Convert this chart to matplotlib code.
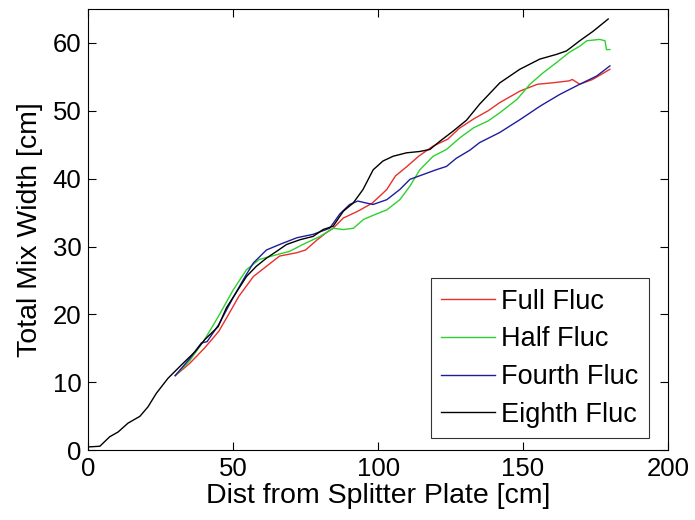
import matplotlib
matplotlib.use("Agg")
import matplotlib.pyplot as plt

plt.rcParams['font.family'] = ['Liberation Sans', 'DejaVu Sans']

# Full Fluc (red)
full_x = [30, 35, 40, 45, 48, 52, 57, 61.5, 66, 72, 75, 79, 82, 84.5, 88, 93, 98, 103, 106, 110, 114, 119, 124, 128, 133, 138, 142, 149, 155, 160, 166, 167, 169.6, 174, 180]
full_y = [11.0, 12.8, 15.0, 17.5, 19.7, 22.7, 25.6, 27.1, 28.6, 29.1, 29.5, 31.0, 32.0, 32.7, 34.2, 35.2, 36.4, 38.4, 40.4, 41.8, 43.3, 44.8, 45.8, 47.4, 48.8, 50.0, 51.2, 52.9, 53.9, 54.1, 54.4, 54.6, 53.9, 54.6, 56.1]

# Half Fluc (green)
half_x = [30, 35, 40, 45, 50, 54.6, 59, 65, 69.5, 74, 80, 84.5, 88, 91.5, 95, 98.3, 103, 107.5, 111, 114.4, 119, 123.6, 128.2, 133, 138, 142, 148, 152.4, 157, 161.6, 166, 169.6, 172, 176.5, 178.3, 178.8, 180]
half_y = [11.0, 13.2, 16.2, 19.8, 23.6, 26.6, 28.1, 28.8, 29.3, 30.3, 31.5, 32.7, 32.5, 32.7, 34.0, 34.6, 35.4, 36.9, 38.9, 41.3, 43.3, 44.3, 46.0, 47.5, 48.5, 49.7, 51.7, 53.9, 55.6, 57.1, 58.6, 59.5, 60.3, 60.5, 60.3, 59.0, 59.0]

# Fourth Fluc (blue)
fourth_x = [30, 35, 39, 41, 45, 50, 54, 57, 61.5, 66, 72, 77.6, 83.3, 86.8, 90.2, 93, 96, 98.3, 103, 107.5, 111, 115.5, 120, 123.6, 127, 131.7, 135, 142, 149, 156, 162.7, 169.6, 175.4, 180]
fourth_y = [11.0, 13.5, 15.8, 16.0, 18.5, 22.5, 25.5, 27.6, 29.5, 30.3, 31.3, 31.8, 32.7, 34.8, 36.2, 36.7, 36.4, 36.2, 36.9, 38.4, 39.9, 40.6, 41.3, 41.8, 43.0, 44.2, 45.3, 46.8, 48.7, 50.7, 52.4, 53.9, 55.1, 56.6]

# Eighth Fluc (black)
eighth_x = [0, 4, 7.4, 10.3, 13.7, 17.8, 20.6, 23.5, 27.5, 32.2, 36.8, 40.2, 44.8, 47.7, 51, 54.6, 58, 61.5, 65, 68.4, 73, 77.6, 81, 84.5, 88, 91.4, 94.8, 98.3, 101.7, 105.2, 109.8, 114.4, 117.9, 121.3, 125.9, 130.5, 135.1, 142, 148.9, 155.8, 161.6, 165, 169.6, 174.2, 179.4]
eighth_y = [0.5, 0.6, 2.0, 2.7, 4.0, 5.0, 6.4, 8.4, 10.6, 12.6, 14.5, 16.3, 18.2, 21.0, 23.2, 25.6, 27.1, 28.3, 29.3, 30.3, 31.0, 31.5, 32.5, 33.0, 35.2, 36.4, 38.4, 41.3, 42.6, 43.3, 43.8, 44.0, 44.3, 45.5, 47.0, 48.6, 51.0, 54.1, 56.1, 57.6, 58.3, 58.8, 60.3, 61.7, 63.5]

labels = ["Full Fluc", "Half Fluc", "Fourth Fluc", "Eighth Fluc"]
colors = ["#e8302c", "#2ed12e", "#1e1e9c", "#000000"]

x_ticks = [0, 50, 100, 150, 200]
y_ticks = [0, 10, 20, 30, 40, 50, 60]

fig = plt.figure(figsize=(6.95, 5.2), dpi=100)
ax = fig.add_axes([0.127, 0.134, 0.834, 0.849])

series = [(full_x, full_y), (half_x, half_y), (fourth_x, fourth_y), (eighth_x, eighth_y)]
for (xs, ys), lab, c in zip(series, labels, colors):
    ax.plot(xs, ys, color=c, lw=1.0, label=lab)

ax.set_xlim(0, 200)
ax.set_ylim(0, 65)
ax.set_xticks(x_ticks)
ax.set_yticks(y_ticks)
ax.tick_params(direction='in', length=6, width=0.8, top=True, right=True, labelsize=18.5, pad=5)
for s in ax.spines.values():
    s.set_linewidth(0.8)
ax.set_xlabel("Dist from Splitter Plate [cm]", fontsize=20.5, labelpad=1)
ax.set_ylabel("Total Mix Width [cm]", fontsize=20.5, labelpad=7)

leg = ax.legend(loc='lower right', bbox_to_anchor=(0.967, 0.028), borderaxespad=0,
                fontsize=19.5, frameon=True, fancybox=False, edgecolor='black',
                handlelength=2.0, handletextpad=0.22, labelspacing=0.43, borderpad=0.38)
leg.get_frame().set_linewidth(0.8)

fig.savefig("out.png", dpi=100)
